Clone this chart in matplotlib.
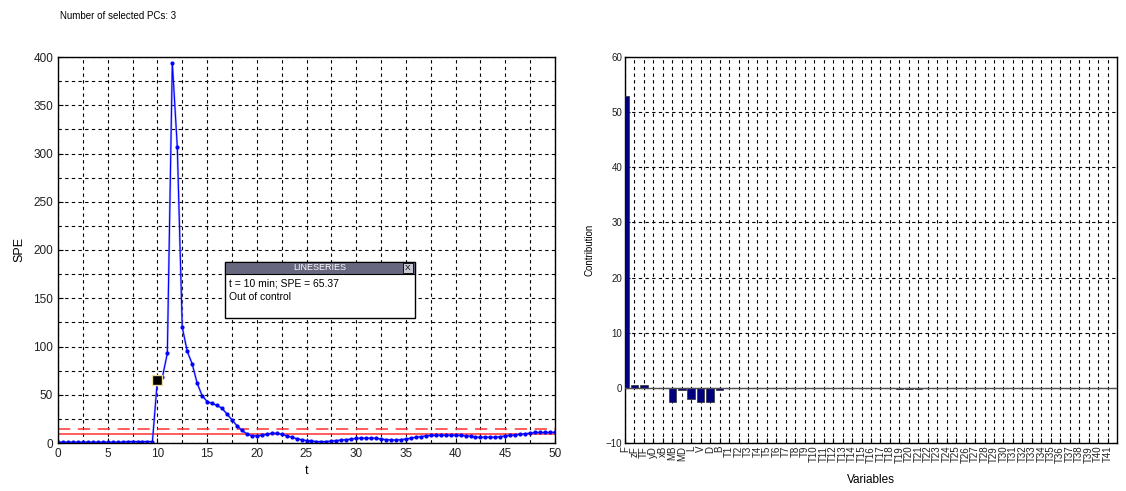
import numpy as np
import matplotlib
matplotlib.use("Agg")
import matplotlib.pyplot as plt
from matplotlib.ticker import MultipleLocator
from matplotlib.patches import Rectangle

plt.rcParams['font.family'] = ['Liberation Sans', 'DejaVu Sans']

# ---- data: SPE chart ----
t = np.arange(0, 50.5, 0.5)
spe = [0.8, 0.8, 0.8, 0.8, 0.8, 0.8, 0.8, 0.8, 0.8, 0.8,
       0.8, 0.8, 0.8, 1.0, 1.5, 1.5, 1.5, 1.5, 1.5, 1.5,
       65.37, 68, 93, 394, 307, 120, 95, 82, 62, 49,
       43, 41, 39, 36, 30, 24, 18, 13, 9.5, 7.5,
       7.3, 8, 9, 10, 10, 9, 7.5, 6, 4.5, 3.5,
       2.5, 2, 1.5, 1.5, 1.5, 2, 2.5, 3, 3.5, 4,
       4.8, 5, 5, 5, 5, 4, 3.5, 3.2, 3, 3.5,
       4.1, 5, 6, 6.5, 7.4, 7.8, 8, 8, 8, 8,
       8, 7.8, 7.4, 7, 6, 6, 6, 6, 6, 6.5,
       7.4, 7.8, 8.4, 9, 9.5, 10.2, 10.9, 10.9, 10.9, 11,
       11]
limit_99 = 14.0
limit_95 = 9.3
sel_t, sel_spe = 10, 65.37

# ---- data: contribution chart ----
var_labels = ['F', 'zF', 'TF', 'yD', 'xB', 'MB', 'MD', 'L', 'V', 'D', 'B'] + \
             ['T%d' % i for i in range(1, 42)]
contrib = [53, 0.5, 0.5, 0, 0, -2.6, -0.3, -2.1, -2.5, -2.6, -0.3] + [0] * 41
for name in ['T19', 'T20', 'T21']:
    contrib[var_labels.index(name)] = -0.15

W, H = 1126, 491
fig = plt.figure(figsize=(W / 100, H / 100), dpi=100)

def ax_rect(x0, y0, x1, y1):
    return [x0 / W, 1 - y1 / H, (x1 - x0) / W, (y1 - y0) / H]

grid_kw = dict(color='black', linestyle=(0, (3, 3)), linewidth=0.8)
tick_color = '#202020'

# ---------- left chart ----------
ax1 = fig.add_axes(ax_rect(58, 57, 555, 443))
ax1.set_xlim(0, 50)
ax1.set_ylim(0, 400)
ax1.xaxis.set_major_locator(MultipleLocator(5))
ax1.xaxis.set_minor_locator(MultipleLocator(2.5))
ax1.yaxis.set_major_locator(MultipleLocator(50))
ax1.yaxis.set_minor_locator(MultipleLocator(25))
ax1.grid(True, which='both', **grid_kw)
ax1.set_axisbelow(True)
ax1.axhline(limit_99, color='#ff3030', linestyle=(0, (8, 5)), linewidth=1.1)
ax1.axhline(limit_95, color='#ff3030', linestyle='-', linewidth=1.1)
ax1.plot(t, spe, color='#8080ff', linewidth=1.6, alpha=0.6)
ax1.plot(t, spe, color='#0000ff', linewidth=0.8, marker='.', markersize=4)
ax1.plot([sel_t], [sel_spe], marker='s', markersize=7, color='black',
         markeredgecolor='#f0e0a0', markeredgewidth=1.0, linestyle='none', zorder=5)
ax1.tick_params(axis='both', which='both', direction='in', labelsize=8.5,
                labelcolor=tick_color)
ax1.tick_params(which='minor', length=0)
ax1.set_xlabel('t', fontsize=9, labelpad=4)
ax1.set_ylabel('SPE', fontsize=9, labelpad=6)
for s in ax1.spines.values():
    s.set_linewidth(1.0)

# tooltip box
bx0, by0, bx1, by1 = 225, 262, 415, 318
fig.patches.append(Rectangle((bx0 / W, 1 - by1 / H), (bx1 - bx0) / W, (by1 - by0) / H,
                             transform=fig.transFigure, facecolor='white',
                             edgecolor='black', linewidth=1.0, zorder=10))
fig.patches.append(Rectangle((bx0 / W, 1 - 274 / H), (bx1 - bx0) / W, 12 / H,
                             transform=fig.transFigure, facecolor='#67677f',
                             edgecolor='black', linewidth=0.8, zorder=11))
fig.patches.append(Rectangle((403 / W, 1 - 273 / H), 10 / W, 10 / H,
                             transform=fig.transFigure, facecolor='#c8c8d0',
                             edgecolor='black', linewidth=0.6, zorder=12))
fig.text(408 / W, 1 - 268 / H, 'X', fontsize=6, ha='center', va='center', zorder=13)
fig.text(320 / W, 1 - 268 / H, 'LINESERIES', fontsize=6.5, color='white',
         ha='center', va='center', zorder=13)
fig.text(229 / W, 1 - 284 / H, 't = 10 min; SPE = 65.37', fontsize=7.5,
         ha='left', va='center', zorder=13)
fig.text(229 / W, 1 - 297 / H, 'Out of control', fontsize=7.5,
         ha='left', va='center', zorder=13)

fig.text(60 / W, 1 - 16 / H, 'Number of selected PCs: 3', fontsize=7,
         ha='left', va='center')

# ---------- right chart ----------
ax2 = fig.add_axes(ax_rect(625, 57, 1117, 443))
x = np.arange(1, len(contrib) + 1)
ax2.bar(x, contrib, width=0.8, color='#00007f', edgecolor='#303030', linewidth=0.5, zorder=3)
ax2.axhline(0, color='#505050', linewidth=1.0, zorder=4)
ax2.set_xlim(1, len(contrib) + 1)
ax2.set_ylim(-10, 60)
ax2.set_xticks(x)
ax2.set_xticklabels(var_labels, rotation=90, fontsize=7)
ax2.yaxis.set_major_locator(MultipleLocator(10))
ax2.grid(True, which='major', **grid_kw)
ax2.set_axisbelow(True)
ax2.tick_params(axis='both', direction='in', labelsize=7, pad=2, labelcolor=tick_color)
ax2.set_xlabel('Variables', fontsize=8.5, labelpad=8)
ax2.set_ylabel('Contribution', fontsize=7, labelpad=8)
for s in ax2.spines.values():
    s.set_linewidth(1.0)

fig.savefig('out.png', dpi=100)
